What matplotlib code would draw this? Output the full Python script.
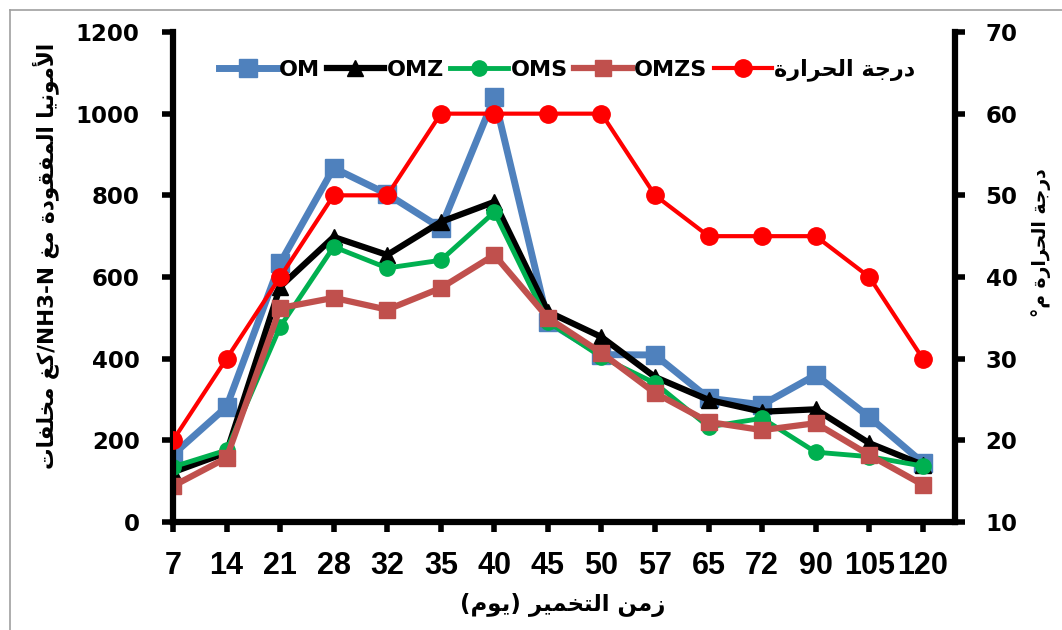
import numpy as np
import matplotlib.pyplot as plt
from matplotlib.lines import Line2D

# arabic letters -> presentation forms (iso, fin, ini, med)
FORMS = {
    'ا': ('\uFE8D', '\uFE8E'), 'أ': ('\uFE83', '\uFE84'),
    'د': ('\uFEA9', '\uFEAA'), 'ر': ('\uFEAD', '\uFEAE'),
    'ز': ('\uFEAF', '\uFEB0'), 'و': ('\uFEED', '\uFEEE'),
    'ة': ('\uFE93', '\uFE94'),
    'ت': ('\uFE95', '\uFE96', '\uFE97', '\uFE98'),
    'ج': ('\uFE9D', '\uFE9E', '\uFE9F', '\uFEA0'),
    'ح': ('\uFEA1', '\uFEA2', '\uFEA3', '\uFEA4'),
    'خ': ('\uFEA5', '\uFEA6', '\uFEA7', '\uFEA8'),
    'غ': ('\uFECD', '\uFECE', '\uFECF', '\uFED0'),
    'ف': ('\uFED1', '\uFED2', '\uFED3', '\uFED4'),
    'ق': ('\uFED5', '\uFED6', '\uFED7', '\uFED8'),
    'ك': ('\uFED9', '\uFEDA', '\uFEDB', '\uFEDC'),
    'ل': ('\uFEDD', '\uFEDE', '\uFEDF', '\uFEE0'),
    'م': ('\uFEE1', '\uFEE2', '\uFEE3', '\uFEE4'),
    'ن': ('\uFEE5', '\uFEE6', '\uFEE7', '\uFEE8'),
    'ي': ('\uFEF1', '\uFEF2', '\uFEF3', '\uFEF4'),
}
LAM_ALEF = {'ا': ('\uFEFB', '\uFEFC'), 'أ': ('\uFEF7', '\uFEF8')}


def shape(s):
    out = []
    i = 0
    prev = False
    while i < len(s):
        c = s[i]
        if c not in FORMS:
            out.append(c)
            prev = False
            i += 1
            continue
        if c == 'ل' and i + 1 < len(s) and s[i + 1] in LAM_ALEF:
            f = LAM_ALEF[s[i + 1]]
            out.append(f[1] if prev else f[0])
            prev = False
            i += 2
            continue
        f = FORMS[c]
        nxt = len(f) == 4 and i + 1 < len(s) and s[i + 1] in FORMS
        if prev and nxt:
            out.append(f[3])
        elif prev:
            out.append(f[1])
        elif nxt:
            out.append(f[2])
        else:
            out.append(f[0])
        prev = len(f) == 4
        i += 1
    return ''.join(out)


def ar(s):
    return shape(s)[::-1].translate(str.maketrans('()', ')('))


days = ['7', '14', '21', '28', '32', '35', '40', '45', '50', '57', '65', '72', '90', '105', '120']
om = [165, 282, 634, 867, 803, 720, 1040, 490, 410, 409, 303, 287, 360, 257, 145]
omz = [122, 170, 576, 698, 654, 735, 784, 515, 453, 355, 299, 270, 276, 193, 140]
oms = [135, 176, 478, 674, 622, 641, 759, 490, 404, 340, 233, 254, 171, 160, 137]
omzs = [88, 157, 524, 549, 520, 573, 654, 500, 414, 316, 245, 225, 242, 164, 91]
temp = [20, 30, 40, 50, 50, 60, 60, 60, 60, 50, 45, 45, 45, 40, 30]

x = np.arange(len(days))

fig = plt.figure(figsize=(10.62, 6.3), dpi=100)
ax = fig.add_axes([173/1062, 1-522/630, (955-173)/1062, (522-32)/630])
ax2 = ax.twinx()

l1, = ax.plot(x, om, color='#4F81BD', lw=5, marker='s', ms=13, label='OM')
l2, = ax.plot(x, omz, color='black', lw=4.5, marker='^', ms=11, label='OMZ')
l3, = ax.plot(x, oms, color='#00B050', lw=3.5, marker='o', ms=11, label='OMS')
l4, = ax.plot(x, omzs, color='#C0504D', lw=4.5, marker='s', ms=12, label='OMZS')
l5, = ax2.plot(x, temp, color='#FF0000', lw=3, marker='o', ms=12.5, label=ar('درجة الحرارة'))

ax.set_xlim(0, 14.6)
ax.set_ylim(0, 1200)
ax2.set_ylim(10, 70)
ax.set_yticks(range(0, 1201, 200))
ax2.set_yticks(range(10, 71, 10))
ax.set_xticks(x)
ax.set_xticklabels(days, fontsize=22, fontweight='bold',
                   family=['Liberation Sans Narrow', 'DejaVu Sans Condensed', 'Liberation Sans'])
for t in ax.get_yticklabels() + ax2.get_yticklabels():
    t.set_fontsize(16.5)
    t.set_fontweight('bold')

for a in (ax, ax2):
    a.spines['top'].set_visible(False)
ax.spines['right'].set_visible(False)
ax2.spines['left'].set_visible(False)
ax2.spines['bottom'].set_visible(False)
ax.spines['left'].set_linewidth(4.5)
ax.spines['bottom'].set_linewidth(4.5)
ax2.spines['right'].set_linewidth(4.5)

ax.tick_params(axis='y', direction='out', length=8, width=4, pad=16)
ax.tick_params(axis='x', direction='out', length=7, width=4, pad=14)
ax2.tick_params(axis='y', direction='out', length=7, width=4, pad=15)

fig.text(563/1062, 1-605/630, ar('زمن التخمير (يوم)'), fontsize=16.5, fontweight='bold',
         ha='center', va='center')
fig.text(46/1062, 1-256/630, ar('كغ مخلفات') + '/NH3-N ' + ar('الأمونيا المفقودة مغ'),
         fontsize=15.5, fontweight='bold', rotation=90, ha='center', va='center')
fig.text(1041/1062, 1-243/630, ar('درجة الحرارة م°'), fontsize=13.5, fontweight='bold',
         rotation=90, ha='center', va='center')

ax2.legend(handles=[l1, l2, l3, l4, l5], loc='center',
           bbox_to_anchor=(567/1062, 1-70/630), bbox_transform=fig.transFigure,
           ncol=5, frameon=False, handlelength=2.6, handletextpad=0.1,
           columnspacing=0.3, prop={'weight': 'bold', 'size': 16})

# chart area border
fig.add_artist(Line2D([10/1062, 10/1062], [0, 1-10/630], color='#A0A0A0', lw=1.2))
fig.add_artist(Line2D([10/1062, 1], [1-10/630, 1-10/630], color='#A0A0A0', lw=1.2))

fig.savefig('out.png', dpi=100)
